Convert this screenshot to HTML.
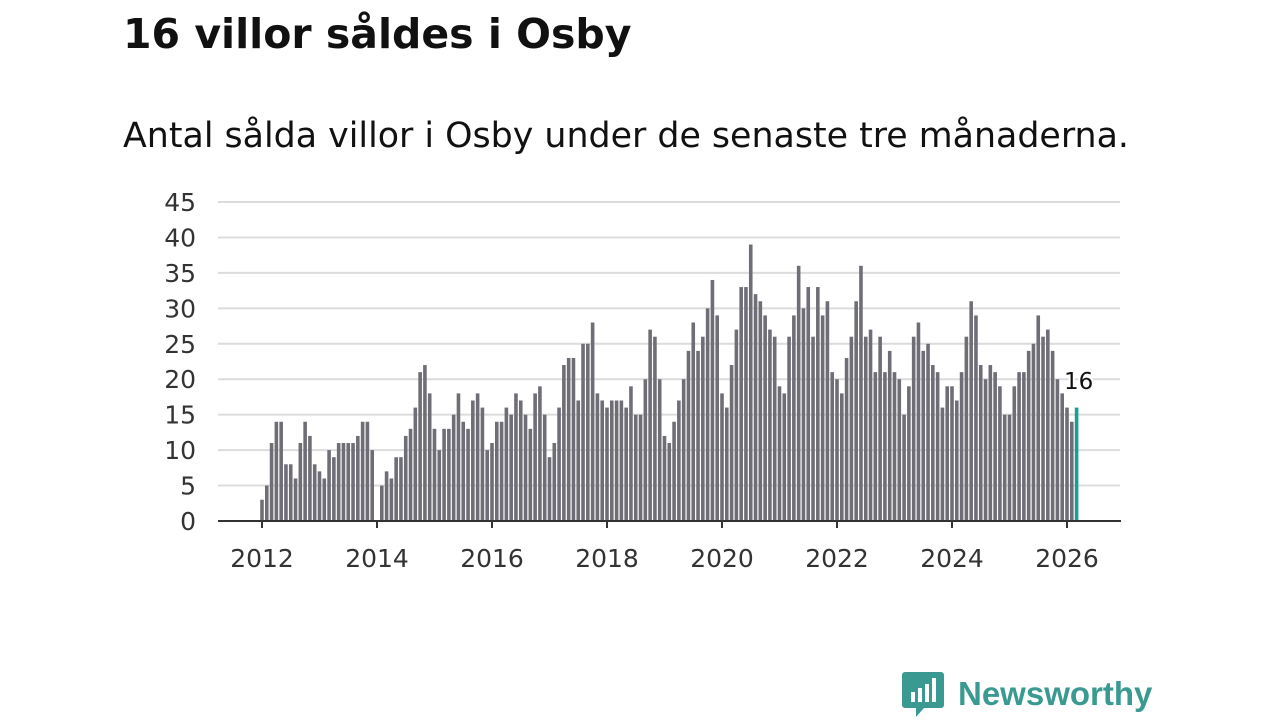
<!DOCTYPE html>
<html><head><meta charset="utf-8"><style>
body{margin:0;width:1280px;height:720px;background:#fff;overflow:hidden;font-family:"DejaVu Sans","Liberation Sans",sans-serif;}
h1{position:absolute;left:123px;top:10px;margin:0;font-size:41px;font-weight:bold;color:#111;letter-spacing:0px;}
.sub{position:absolute;left:123px;top:116px;font-size:34.8px;color:#111;}
.logo{position:absolute;left:902px;top:670px;display:flex;align-items:center;}
</style></head><body>
<h1>16 villor såldes i Osby</h1>
<div class="sub">Antal sålda villor i Osby under de senaste tre månaderna.</div>
<svg id="chart" width="1280" height="720" style="position:absolute;left:0;top:0"></svg>
<div class="logo">
<svg width="42" height="48" viewBox="0 0 42 48"><path d="M3 2h36a3 3 0 0 1 3 3v30a3 3 0 0 1-3 3H22l-8 9v-9H3a3 3 0 0 1-3-3V5a3 3 0 0 1 3-3z" fill="#3a9a91"/><rect x="9" y="22" width="4" height="10" fill="#fff"/><rect x="16" y="18" width="4" height="14" fill="#fff"/><rect x="23" y="14" width="4" height="18" fill="#fff"/><rect x="30" y="8" width="4" height="24" fill="#fff"/></svg>
<span style="font-size:33px;color:#3a9a91;font-weight:bold;margin-left:14px;font-family:'Liberation Sans',sans-serif">Newsworthy</span>
</div>
<script>
const years=[2012,2013,2014,2015,2016,2017,2018,2019,2020,2021,2022,2023,2024,2025,2026];
const values=[
3,5,11,14,14,8,8,6,11,14,12,8,
7,6,10,9,11,11,11,11,12,14,14,10,
0,5,7,6,9,9,12,13,16,21,22,18,
13,10,13,13,15,18,14,13,17,18,16,10,
11,14,14,16,15,18,17,15,13,18,19,15,
9,11,16,22,23,23,17,25,25,28,18,17,
16,17,17,17,16,19,15,15,20,27,26,20,
12,11,14,17,20,24,28,24,26,30,34,29,
18,16,22,27,33,33,39,32,31,29,27,26,
19,18,26,29,36,30,33,26,33,29,31,21,
20,18,23,26,31,36,26,27,21,26,21,24,
21,20,15,19,26,28,24,25,22,21,16,19,
19,17,21,26,31,29,22,20,22,21,19,15,
15,19,21,21,24,25,29,26,27,24,20,18,
16,14,16];
const yTicks=[0,5,10,15,20,25,30,35,40,45];
const xTicks=[2012,2014,2016,2018,2020,2022,2024,2026];
const svg=document.getElementById('chart');
const NS='http://www.w3.org/2000/svg';
const FONT='DejaVu Sans, Liberation Sans, sans-serif';
const x0=262,pxYear=57.5,y0=521,pxUnit=(521-202)/45;
const xs=i=>x0+i*pxYear/12;
const xy=y=>x0+(y-2012)*pxYear;
const ys=v=>y0-v*pxUnit;
function mk(t,a){const e=document.createElementNS(NS,t);for(const k in a)e.setAttribute(k,a[k]);svg.appendChild(e);return e;}
yTicks.forEach(v=>{
 if(v>0){const g=mk('line',{x1:218,x2:1120,y1:ys(v),y2:ys(v),stroke:'#dcdcdc','stroke-width':2});
 
 }
 const t=mk('text',{x:196,y:ys(v)+9,'text-anchor':'end','font-size':25,fill:'#333','font-family':FONT});
 t.textContent=v;
 
 
});
values.forEach((v,i)=>{
 const last=i===values.length-1;
 const r=mk('rect',{x:xs(i)-1.8,y:ys(v),width:3.6,height:v*pxUnit,fill:last?'#1a9e94':'#6f6e76'});
 
 
});
const ax=mk('line',{x1:218,x2:1121,y1:y0,y2:y0,stroke:'#333','stroke-width':2});


xTicks.forEach(y=>{
 const tk=mk('line',{x1:xy(y),x2:xy(y),y1:y0,y2:y0+7,stroke:'#333','stroke-width':2});
 
 
 const t=mk('text',{x:xy(y),y:567,'text-anchor':'middle','font-size':25,fill:'#333','font-family':FONT});
 t.textContent=y;
 
 
});
const li=values.length-1;
const lab=mk('text',{x:xs(li)+2,y:ys(20)+10,'text-anchor':'middle','font-size':23,fill:'#111',stroke:'#fff','stroke-width':4,'paint-order':'stroke','font-family':FONT});
lab.textContent=values[li];


</script>
</body></html>
